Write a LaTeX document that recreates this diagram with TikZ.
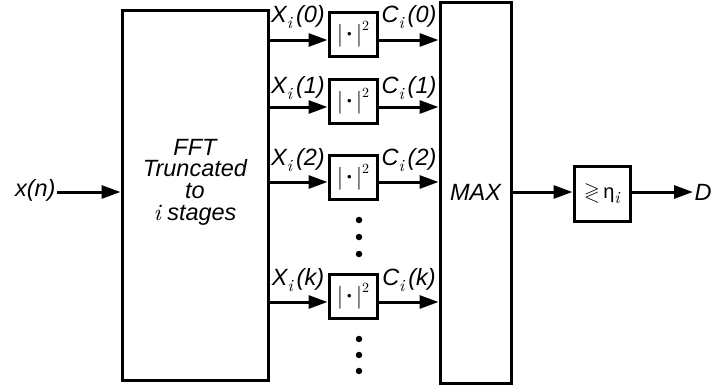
\documentclass[tikz,border=0pt]{standalone}
\usepackage{fontspec}
\setmainfont{Liberation Sans}
\newfontfamily\lmit{lmroman10-italic.otf}
\newfontfamily\lmrm{lmroman10-regular.otf}
\newfontfamily\lmmath{latinmodern-math.otf}
\newcommand\isub{\raisebox{-0.28em}{\fontsize{17}{17}\selectfont\lmit i}}
\newcommand\sqbox{{\lmrm|}\hspace{4pt}\raisebox{0.12em}{\fontsize{13}{13}\selectfont •}\hspace{4pt}{\lmrm|}\raisebox{0.5em}{\fontsize{14}{14}\selectfont\lmrm 2}}
\usetikzlibrary{arrows.meta}
\begin{document}
\begin{tikzpicture}[x=1pt,y=-1pt, line width=3pt,
  arr/.style={-{Triangle[length=19pt,width=13pt]}},
  lbl/.style={font=\fontsize{23.5}{21.7}\selectfont\itshape, inner sep=0pt},
  sq/.style={draw, minimum width=48pt, minimum height=44pt, inner sep=0pt, font=\fontsize{23}{24}\selectfont},
  dot/.style={circle, fill, inner sep=0pt, minimum size=6.5pt}]
\useasboundingbox (0,0) rectangle (712,388);
% main blocks
\node[draw, minimum width=146pt, minimum height=370pt, inner sep=0pt] (fft) at (195,195) {};
\node[lbl, align=center] (fftt) at (195,182) {FFT\\Truncated\\to\\{\lmit i} stages};
\node[draw, minimum width=71pt, minimum height=381pt, inner sep=0pt] (max) at (475.5,192.5) {};
\node[lbl] (maxt) at (475.5,192) {MAX};
% squaring boxes
\node[sq] (b0) at (353,34) {\sqbox};
\node[sq] (b1) at (353,101) {\sqbox};
\node[sq] (b2) at (353,177) {\sqbox};
\node[sq] (b3) at (353,296) {\sqbox};
% line levels
\coordinate (y0) at (0,40);
\coordinate (y1) at (0,107);
\coordinate (y2) at (0,182);
\coordinate (y3) at (0,302);
\foreach \i in {0,1,2,3}{
  \draw[arr] (fft.east |- y\i) -- (b\i.west |- y\i);
  \draw[arr] (b\i.east |- y\i) -- (max.west |- y\i);
}
% labels
\node[lbl] (x0) at (298,17) {X\isub\,(0)};
\node[lbl] (c0) at (409,17) {C\isub\,(0)};
\node[lbl] (x1) at (298,88) {X\isub\,(1)};
\node[lbl] (c1) at (409,88) {C\isub\,(1)};
\node[lbl] (x2) at (298,160) {X\isub\,(2)};
\node[lbl] (c2) at (409,160) {C\isub\,(2)};
\node[lbl] (x3) at (298,280) {X\isub\,(k)};
\node[lbl] (c3) at (409,280) {C\isub\,(k)};
% dots
\node[dot] (d1) at (359,220) {};
\node[dot] (d2) at (359,237) {};
\node[dot] (d3) at (359,254) {};
\node[dot] (d4) at (359,339) {};
\node[dot] (d5) at (359,355) {};
\node[dot] (d6) at (359,371) {};
% input
\node[lbl, anchor=east] (xn) at (57,190) {x(n)};
\coordinate (yin) at (0,192);
\draw[arr] (xn.east |- yin) -- (fft.west |- yin);
% threshold
\node[draw, minimum width=56pt, minimum height=55pt, inner sep=0pt, font=\fontsize{20}{24}\selectfont] (thr) at (602,193.5) {{\lmmath ≷}\,η\isub};
\draw[arr] (max.east |- yin) -- (thr.west |- yin);
\node[lbl, anchor=west] (d) at (693,192) {D};
\draw[arr] (thr.east |- yin) -- (d.west);
\end{tikzpicture}
\end{document}
